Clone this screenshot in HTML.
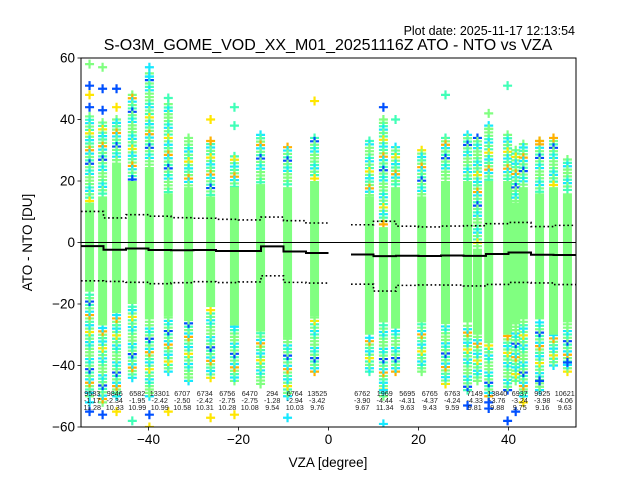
<!DOCTYPE html>
<html><head><meta charset="utf-8"><style>
html,body{margin:0;padding:0;background:#fff;}
svg{display:block;font-family:"Liberation Sans","DejaVu Sans",sans-serif;}
</style></head><body>
<svg id="chart" width="640" height="480" viewBox="0 0 640 480">
<rect width="640" height="480" fill="#fff"/>
<text x="575" y="35" font-size="12.5" text-anchor="end">Plot date: 2025-11-17 12:13:54</text>
<text x="328" y="50" font-size="16" text-anchor="middle">S-O3M_GOME_VOD_XX_M01_20251116Z ATO - NTO vs VZA</text>
<text x="328" y="467" font-size="13.5" text-anchor="middle">VZA [degree]</text>
<text transform="translate(32,242.5) rotate(-90)" font-size="13.5" text-anchor="middle">ATO - NTO [DU]</text>
<defs><clipPath id="pc"><rect x="81" y="58" width="495" height="369"/></clipPath></defs>
<g id="marks" clip-path="url(#pc)"></g>
<g id="axes"></g>
</svg>
<script>
const vza = [-53.1,-50.2,-47.1,-43.6,-39.8,-35.6,-31.1,-26.2,-20.9,-15.1,-9.1,-3.1,9.1,12.2,14.9,20.7,26.0,30.9,33.1,35.6,39.8,41.6,43.3,46.9,50.0,53.1];
const coreHi = [13,15,26,20,24,16,18,15,18,19,18,20,15,5,18,15,20,20,-2,20,20,13,18,16,18,16];
const coreLo = [-16,-27,-23,-20,-25,-24,-25,-21,-27,-29,-31,-24,-30,-26,-28,-26,-26,-26,-30,-32,-30,-26,-25,-25,-30,-26];
const spreadHi = [41,39,40,48,55,45,34,32,28,35,31,34,33,40,31,30,34,35,34,38,35,30,32,33,33,27];
const spreadLo = [-50,-52,-50,-44,-50,-42,-45,-44,-45,-46,-50,-42,-42,-50,-42,-42,-46,-48,-45,-50,-48,-45,-50,-48,-40,-42];
const outX = [-53.1,-53.1,-53.1,-53.1,-50.2,-50.2,-50.2,-47.1,-47.1,-39.8,-39.8,-35.6,-26.2,-26.2,-20.9,-20.9,-3.1,12.2,14.9,26.0,35.6,35.6,39.8,46.9,50.0,
 -53.1,-53.1,-50.2,-47.1,-43.6,-39.8,-39.8,-35.6,-26.2,-20.9,-9.1,12.2,12.2,30.9,35.6,35.6,39.8,41.6,43.3,46.9,53.1];
const outY = [58,51,48,44,57,50,43,50,44,57,54,47,40,33,44,38,46,44,40,48,42,37,51,33,34,
 -55,-52,-56,-55,-58,-56,-60,-55,-57,-56,-57,-59,-48,-53,-52,-54,-58,-55,-52,-45,-39];
const outC = [3,6,4,6,3,6,6,6,4,1,1,2,4,5,2,2,4,6,2,2,3,3,2,5,5,
 6,1,6,4,2,6,4,4,4,4,1,1,1,6,6,6,6,6,4,6,6];
const binStart = [-55,-50,-45,-40,-35,-30,-25,-20,-15,-10,-5,5,10,15,20,25,30,35,40,45,50];
const counts = [9583,9846,6582,13301,6707,6734,6756,6470,294,6764,13525,6762,1969,5695,6765,6763,7149,13840,6937,9925,10621];
const means = [-1.17,-2.34,-1.95,-2.42,-2.50,-2.42,-2.75,-2.75,-1.28,-2.94,-3.42,-3.90,-4.44,-4.31,-4.37,-4.24,-4.33,-3.76,-3.24,-3.98,-4.06];
const stds = [11.28,10.33,10.99,10.99,10.58,10.31,10.28,10.08,9.54,10.03,9.76,9.67,11.34,9.63,9.43,9.59,9.81,9.88,9.75,9.16,9.63];
const yTicks = [-60,-40,-20,0,20,40,60];
const xTicks = [-40,-20,0,20,40];

const L=81,R=576,T=58,B=427;
const xs = v => L + (v+55)/110*(R-L);
const ys = v => T + (60-v)/120*(B-T);
const NS='http://www.w3.org/2000/svg';
const marks=document.getElementById('marks'), axes=document.getElementById('axes');
function mk(tag,attrs,parent){const e=document.createElementNS(NS,tag);for(const k in attrs)e.setAttribute(k,attrs[k]);parent.appendChild(e);return e;}
const palette=['#80ff80','#16e8ff','#40ffb7','#80ff80','#ffe600','#ffb000','#0050ff'];
const cyc=[0,2,1,0,2,4,0,1,2,0,5,1,0,2,6,0,2,1,0,3];
function cross(cx,cy,col,parent){
  return mk('path',{d:`M${cx-4.5},${cy}H${cx+4.5}M${cx},${cy-4.5}V${cy+4.5}`,stroke:col,'stroke-width':2.2,fill:'none'},parent);
}
vza.forEach((v,i)=>{
  const g=mk('g',{},marks);
  
  
  const cx=xs(v);
  let k=0;
  for(let y=spreadHi[i]; y>coreHi[i]; y-=1.1){cross(cx,ys(y),palette[cyc[(k+i*3)%cyc.length]],g);k++;}
  for(let y=spreadLo[i]; y<coreLo[i]; y+=1.1){cross(cx,ys(y),palette[cyc[(k+i*7)%cyc.length]],g);k++;}
  const r=mk('rect',{x:cx-4.5,y:ys(coreHi[i]),width:9,height:ys(coreLo[i])-ys(coreHi[i]),fill:'#80ff80'},g);
  
  
});
outX.forEach((v,i)=>{
  const p=cross(xs(v),ys(outY[i]),palette[outC[i]],marks);
  
  
});
const z=mk('line',{x1:L,x2:R,y1:ys(0),y2:ys(0),stroke:'#000','stroke-width':1},marks);


function stepPath(vals,sign){
  let d='';let prevEnd=null;
  binStart.forEach((b,i)=>{
    const val=means[i]+sign*vals[i];
    const x0=xs(b),x1=xs(b+5),y=ys(val);
    if(prevEnd===b) d+=`V${y}H${x1}`; else d+=`M${x0},${y}H${x1}`;
    prevEnd=b+5;
  });
  return d;
}
const zeros=stds.map(()=>0);
const ml=mk('path',{d:stepPath(zeros,0),stroke:'#000','stroke-width':2,fill:'none'},marks);


const su=mk('path',{d:stepPath(stds,1),stroke:'#000','stroke-width':1.6,fill:'none','stroke-dasharray':'1.6,2.6'},marks);


const sl=mk('path',{d:stepPath(stds,-1),stroke:'#000','stroke-width':1.6,fill:'none','stroke-dasharray':'1.6,2.6'},marks);


binStart.forEach((b,i)=>{
  const cx=xs(b+2.5);
  const t=mk('text',{x:cx,'font-size':7.2,'text-anchor':'middle',fill:'#222'},marks);
  
  
  [counts[i],means[i].toFixed(2),stds[i].toFixed(2)].forEach((s,j)=>{
    const ts=mk('tspan',{x:cx,y:396+j*7},t);ts.textContent=s;
  });
});
const fr=mk('rect',{x:L,y:T,width:R-L,height:B-T,fill:'none',stroke:'#000','stroke-width':1},axes);


yTicks.forEach(v=>{
  mk('line',{x1:L-3.5,x2:L,y1:ys(v),y2:ys(v),stroke:'#000','stroke-width':0.8},axes);
  const t=mk('text',{x:L-6,y:ys(v)+4.5,'font-size':13.5,'text-anchor':'end'},axes);
  
  
  t.textContent=String(v).replace('-','\u2212');
});
xTicks.forEach(v=>{
  mk('line',{x1:xs(v),x2:xs(v),y1:B,y2:B+3.5,stroke:'#000','stroke-width':0.8},axes);
  const t=mk('text',{x:xs(v),y:B+17,'font-size':13.5,'text-anchor':'middle'},axes);
  
  
  t.textContent=String(v).replace('-','\u2212');
});
</script>
</body></html>
